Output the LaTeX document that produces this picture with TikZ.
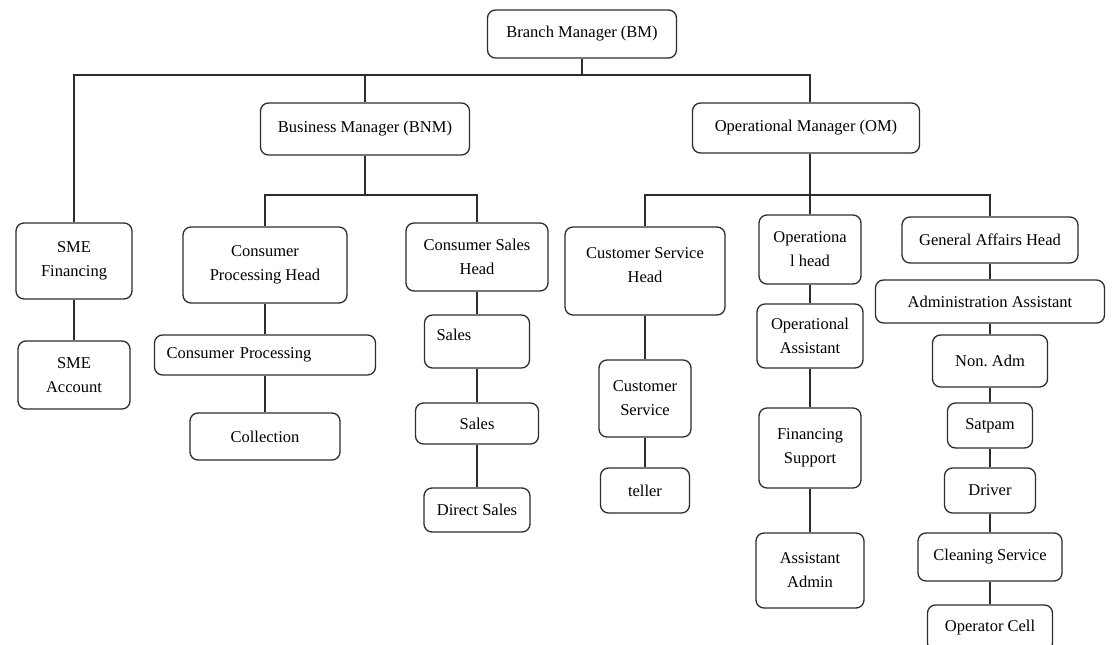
\documentclass[tikz,border=0pt]{standalone}
\usepackage{fontspec}
\setmainfont{Liberation Serif}
\frenchspacing
\definecolor{linegray}{RGB}{45,45,45}
\tikzset{every picture/.style={line width=1.3pt}}
\tikzset{
  post/.style={draw=linegray, rounded corners=8pt, align=center, inner sep=3pt,
    font=\fontsize{16.5}{24}\selectfont},
  link/.style={draw=linegray},
}

\begin{document}
\begin{tikzpicture}[x=1pt,y=-1pt]
\useasboundingbox (0,0) rectangle (1112,645);
\clip (0,0) rectangle (1112,645);

% Text Node
\node[post, minimum width=189pt, minimum height=48pt] (bm) at (582,34) {Branch Manager (BM)};
% Text Node
\node[post, minimum width=209pt, minimum height=52pt] (bnm) at (365,129) {Business Manager (BNM)};
% Text Node
\node[post, minimum width=227pt, minimum height=50pt] (om) at (806,128) {Operational Manager (OM)};

% Text Node
\node[post, minimum width=116pt, minimum height=76pt] (smefin) at (74,261) {SME\\Financing};
\node[post, minimum width=112pt, minimum height=68pt] (smeacc) at (74,375) {SME\\Account};
% Text Node
\node[post, minimum width=164pt, minimum height=76pt] (cph) at (265,265) {Consumer\\Processing Head};
\node[post, text width=197pt, inner xsep=12pt, align=left, minimum height=40pt] (cp) at (265,355) {Consumer Processing};
\node[post, minimum width=150pt, minimum height=47pt] (coll) at (265,436.5) {Collection};
% Text Node
\node[post, minimum width=142pt, minimum height=68pt] (csh) at (477,257) {Consumer Sales\\Head};
\node[post, text width=81pt, inner xsep=12pt, inner ysep=13pt, text height=12pt, text depth=15pt, align=left] (salesa) at (477,341.5) {Sales};
\node[post, minimum width=123pt, minimum height=41pt] (salesb) at (477,423.5) {Sales};
\node[post, minimum width=106pt, minimum height=44pt] (dsales) at (477,510) {Direct Sales};

% Text Node
\node[post, minimum width=160pt, minimum height=88pt] (cshead) at (645,271) {Customer Service\\Head\\[-12pt]\mbox{}};
\node[post, minimum width=92pt, minimum height=77pt] (custserv) at (645,398.5) {Customer\\Service};
\node[post, minimum width=89pt, minimum height=45pt] (teller) at (645,490.5) {teller};
% Text Node
\node[post, minimum width=102pt, minimum height=69pt] (ophead) at (810,249.5) {Operationa\\l head};
\node[post, minimum width=106pt, minimum height=64pt] (opassist) at (810,336) {Operational\\Assistant};
\node[post, minimum width=102pt, minimum height=80pt] (finsup) at (810,448) {Financing\\Support};
\node[post, minimum width=108pt, minimum height=75pt] (asadmin) at (810,570.5) {Assistant\\Admin};
% Text Node
\node[post, minimum width=176pt, minimum height=46pt] (gahead) at (990,240) {General Affairs Head};
\node[post, minimum width=229pt, minimum height=43pt] (adminasst) at (990,301.5) {Administration Assistant};
\node[post, minimum width=115pt, minimum height=52pt] (nonadm) at (990,361) {Non. Adm};
\node[post, minimum width=85pt, minimum height=45pt] (satpam) at (990,425.5) {Satpam};
\node[post, minimum width=91pt, minimum height=45pt] (driver) at (990,490.5) {Driver};
\node[post, minimum width=144pt, minimum height=48pt] (cleaning) at (990,557) {Cleaning Service};
\node[post, minimum width=125pt, minimum height=46pt] (opcell) at (990,628) {Operator Cell};

%Straight Lines
\coordinate (busa) at (0,75);
\coordinate (busb) at (0,195);
\draw[link] (bm.south) -- (bm.south |- busa);
\draw[link] (smefin.north) -- (smefin.north |- busa) -- (ophead.north |- busa) -- (ophead.north |- om.north);
\draw[link] (bnm.north) -- (bnm.north |- busa);
\draw[link] (bnm.south) -- (bnm.south |- busb);
\draw[link] (cph.north) -- (cph.north |- busb) -- (csh.north |- busb) -- (csh.north);
\draw[link] (ophead.north |- om.south) -- (ophead.north);
\draw[link] (cshead.north) -- (cshead.north |- busb) -- (gahead.north |- busb) -- (gahead.north);

%Straight Lines
\foreach \a/\b in {smefin/smeacc, cph/cp, cp/coll, csh/salesa, salesa/salesb, salesb/dsales,
  cshead/custserv, custserv/teller, ophead/opassist, opassist/finsup, finsup/asadmin,
  gahead/adminasst, adminasst/nonadm, nonadm/satpam, satpam/driver, driver/cleaning, cleaning/opcell}
  \draw[link] (\a.south) -- (\b.north);
\end{tikzpicture}
\end{document}
